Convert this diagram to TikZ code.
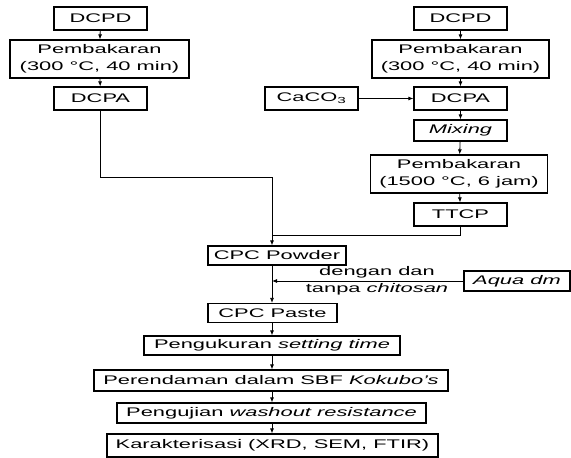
\documentclass[tikz,border=0pt]{standalone}
\usepackage{fontspec}
\setmainfont{Liberation Sans}[FakeStretch=1.75]
\usetikzlibrary{arrows.meta}

\tikzset{
  kotak/.style={draw, line width=1.2pt, inner sep=0pt, minimum width=93pt, minimum height=23pt, align=center},
  panah/.style={line width=0.8pt, -{Latex[length=5pt,width=4pt]}},
  garis/.style={line width=0.8pt}
}

\begin{document}
\begin{tikzpicture}[x=1pt, y=-1pt, font=\fontsize{12.5}{17}\selectfont]
    \useasboundingbox (0,0) rectangle (571,458);
    % kolom kiri
    \node[kotak] (dcpdL) at (100.5,18.5) {DCPD};
    \node[kotak, minimum width=179pt, minimum height=38pt] (pembL) at (99.5,59) {Pembakaran\\(300 °C, 40 min)};
    \node[kotak] (dcpaL) at (100.5,98.5) {DCPA};
    % kolom kanan
    \node[kotak] (dcpdR) at (460.5,18.5) {DCPD};
    \node[kotak, minimum width=177pt, minimum height=38pt] (pembR) at (460.5,59) {Pembakaran\\(300 °C, 40 min)};
    \node[kotak] (caco) at (311.5,98.5) {CaCO\textsubscript{3}};
    \node[kotak] (dcpaR) at (460.5,98.5) {DCPA};
    \node[kotak, minimum height=21pt] (mix) at (460.5,130.5) {\textit{Mixing}};
    \node[kotak, minimum width=177pt, minimum height=38pt] (pembT) at (459,174) {Pembakaran\\(1500 °C, 6 jam)};
    \node[kotak] (ttcp) at (460.5,214.5) {TTCP};
    % jalur bawah
    \node[kotak, minimum width=138pt, minimum height=19pt] (powder) at (277,255.5) {CPC Powder};
    \node[kotak, minimum width=106pt, minimum height=20pt] (aqua) at (517,281) {\textit{Aqua dm}};
    \node[align=center, inner sep=0pt] (ket) at (377,281) {dengan dan\\tanpa \textit{chitosan}};
    \node[kotak, minimum width=129pt, minimum height=19pt] (paste) at (272.5,313) {CPC Paste};
    \node[kotak, minimum width=256pt, minimum height=19pt] (ukur) at (272,345.5) {Pengukuran \textit{setting time}};
    \node[kotak, minimum width=354pt, minimum height=21pt] (rendam) at (271,380.5) {Perendaman dalam SBF \textit{Kokubo's}};
    \node[kotak, minimum width=309pt, minimum height=20pt] (uji) at (271.5,413) {Pengujian \textit{washout resistance}};
    \node[kotak, minimum width=331pt, minimum height=23pt] (karak) at (272.5,445.5) {Karakterisasi (XRD, SEM, FTIR)};

    \coordinate (tekuk) at (272,177);
    \coordinate (gabung) at (272,235);

    \draw[panah] (dcpdL) -- (pembL);
    \draw[panah] (pembL) -- (dcpaL);
    \draw[panah] (dcpdR) -- (pembR);
    \draw[panah] (pembR) -- (dcpaR);
    \draw[panah] (caco) -- (dcpaR);
    \draw[panah] (dcpaR) -- (mix);
    \draw[panah] (mix) -- (pembT);
    \draw[panah] (pembT) -- (ttcp);
    \draw[panah] (dcpaL.south) |- (tekuk) -- (powder.north -| tekuk);
    \draw[garis] (ttcp.south) |- (gabung);
    \draw[panah] (aqua.west) -- (aqua.west -| tekuk);
    \draw[panah] (powder.south -| tekuk) -- (paste.north -| tekuk);
    \foreach \a/\b in {paste/ukur, ukur/rendam, rendam/uji, uji/karak}
        \draw[panah] (\a.south -| tekuk) -- (\b.north -| tekuk);
\end{tikzpicture}
\end{document}
